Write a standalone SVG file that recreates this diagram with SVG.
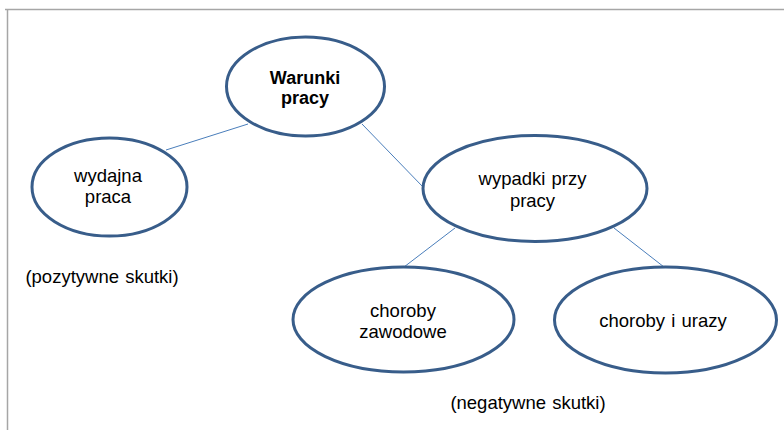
<svg xmlns="http://www.w3.org/2000/svg" width="784" height="430" viewBox="0 0 784 430">
<style>
.node{fill:#ffffff;stroke:#385d8a;stroke-width:3}
.conn{stroke:#4a7ebb;stroke-width:1;fill:none}
.t{font-family:"Liberation Sans",Arial,sans-serif;font-size:18.5px;fill:#000000;text-anchor:middle;word-spacing:1px}
.b{font-weight:bold;font-size:18px}
.frame{stroke:#a6a6a6;stroke-width:1.5;fill:none}
</style>
<rect width="784" height="430" fill="#ffffff"/>
<path class="frame" d="M5,9.5 H784 M7.5,9.5 V430"/>
<g id="connectors">
<line class="conn" x1="248" y1="124" x2="166" y2="150"/>
<line class="conn" x1="362" y1="124" x2="423" y2="187"/>
<line class="conn" x1="455" y1="228" x2="404" y2="267"/>
<line class="conn" x1="614" y1="228" x2="664" y2="267"/>
</g>
<g id="warunki">
<ellipse class="node" cx="305.5" cy="86.5" rx="79" ry="49.5"/>
<text class="t b" x="305" y="84">Warunki</text>
<text class="t b" x="305" y="104">pracy</text>
</g>
<g id="wydajna">
<ellipse class="node" cx="109.5" cy="187" rx="77.5" ry="49"/>
<text class="t" x="108" y="182">wydajna</text>
<text class="t" x="108" y="203">praca</text>
</g>
<g id="wypadki">
<ellipse class="node" cx="535" cy="188.5" rx="112" ry="53"/>
<text class="t" x="532.5" y="185">wypadki przy</text>
<text class="t" x="532.5" y="207">pracy</text>
</g>
<g id="zawodowe">
<ellipse class="node" cx="403.5" cy="319.5" rx="110.5" ry="52.5"/>
<text class="t" x="403" y="317">choroby</text>
<text class="t" x="403" y="338">zawodowe</text>
</g>
<g id="urazy">
<ellipse class="node" cx="665.5" cy="320" rx="111" ry="53"/>
<text class="t" x="663" y="327">choroby i urazy</text>
</g>
<text class="t" x="102" y="283">(pozytywne skutki)</text>
<text class="t" x="528" y="409">(negatywne skutki)</text>
</svg>
